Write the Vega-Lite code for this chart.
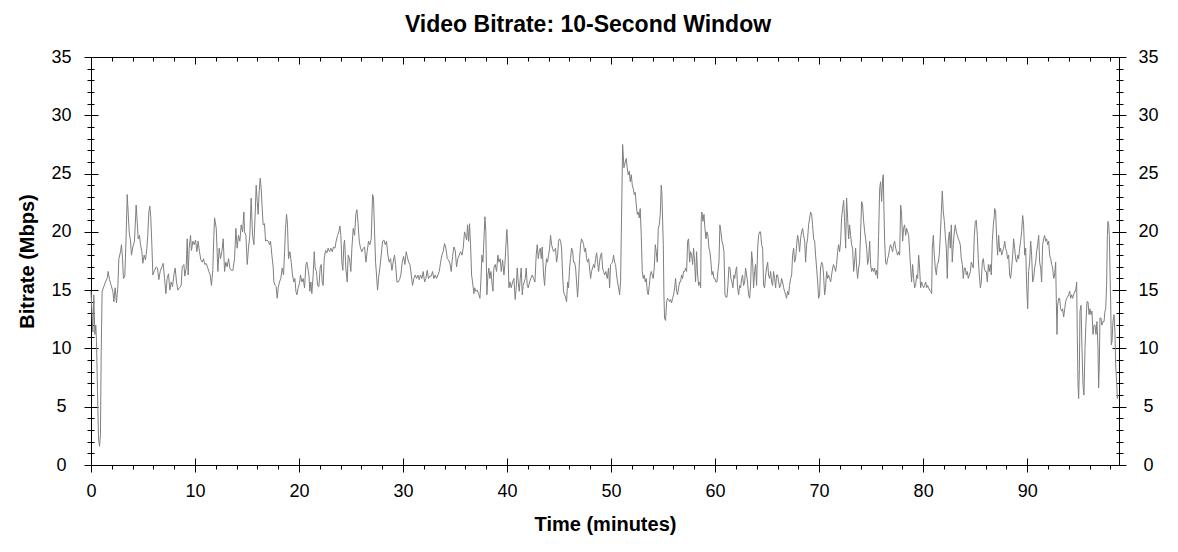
{
"$schema":"https://vega.github.io/schema/vega-lite/v6.json",
"width":1028,"height":408,
"autosize":{"type":"none"},
"padding":{"left":91,"top":57,"right":59,"bottom":87},
"background":"white",
"title":{"text":"Video Bitrate: 10-Second Window","font":"Liberation Sans","fontSize":23,"fontWeight":"bold","color":"#000","anchor":"middle","frame":"group","dx":-17,"dy":29,"offset":22,"baseline":"alphabetic"},
"config":{"view":{"stroke":"#000","strokeWidth":1},"axis":{"domain":false,"grid":false,"tickColor":"#000","tickWidth":1,"labelColor":"#000","labelFont":"Liberation Sans","labelFontSize":18,"titleFont":"Liberation Sans","titleFontSize":20,"titleFontWeight":"bold","titleColor":"#000","labelFlush":false,"labelOverlap":false}},
"data":{"values":[
{"min":0.0,"mbps":14.9},{"min":0.18,"mbps":11.4},{"min":0.27,"mbps":14.6},{"min":0.37,"mbps":11.2},{"min":0.46,"mbps":12.0},{"min":0.53,"mbps":10.6},{"min":0.62,"mbps":6.6},{"min":0.72,"mbps":2.3},{"min":0.82,"mbps":1.6},{"min":0.91,"mbps":2.6},{"min":0.98,"mbps":9.7},{"min":1.07,"mbps":14.9},{"min":1.23,"mbps":15.3},{"min":1.39,"mbps":15.7},{"min":1.55,"mbps":16.0},{"min":1.65,"mbps":16.6},{"min":1.78,"mbps":15.9},{"min":1.94,"mbps":15.4},{"min":2.10,"mbps":14.9},{"min":2.20,"mbps":14.0},{"min":2.32,"mbps":15.2},{"min":2.45,"mbps":13.9},{"min":2.58,"mbps":15.3},{"min":2.68,"mbps":17.7},{"min":2.84,"mbps":18.3},{"min":2.93,"mbps":18.9},{"min":3.03,"mbps":17.7},{"min":3.12,"mbps":16.0},{"min":3.25,"mbps":16.2},{"min":3.38,"mbps":19.7},{"min":3.48,"mbps":23.2},{"min":3.57,"mbps":21.7},{"min":3.67,"mbps":20.0},{"min":3.80,"mbps":19.2},{"min":3.89,"mbps":18.0},{"min":4.02,"mbps":18.7},{"min":4.18,"mbps":19.2},{"min":4.34,"mbps":22.3},{"min":4.44,"mbps":20.9},{"min":4.54,"mbps":19.4},{"min":4.66,"mbps":19.7},{"min":4.76,"mbps":18.9},{"min":4.89,"mbps":18.3},{"min":4.98,"mbps":17.3},{"min":5.11,"mbps":18.0},{"min":5.24,"mbps":17.6},{"min":5.37,"mbps":18.6},{"min":5.46,"mbps":19.7},{"min":5.56,"mbps":21.7},{"min":5.66,"mbps":22.2},{"min":5.75,"mbps":21.2},{"min":5.85,"mbps":18.9},{"min":5.95,"mbps":16.3},{"min":6.11,"mbps":16.7},{"min":6.27,"mbps":17.0},{"min":6.39,"mbps":16.9},{"min":6.52,"mbps":15.9},{"min":6.65,"mbps":16.6},{"min":6.81,"mbps":17.0},{"min":6.94,"mbps":17.3},{"min":7.07,"mbps":16.0},{"min":7.20,"mbps":14.7},{"min":7.32,"mbps":16.0},{"min":7.45,"mbps":16.4},{"min":7.58,"mbps":15.0},{"min":7.71,"mbps":15.7},{"min":7.84,"mbps":15.3},{"min":7.97,"mbps":16.3},{"min":8.09,"mbps":16.9},{"min":8.22,"mbps":15.7},{"min":8.35,"mbps":15.0},{"min":8.51,"mbps":15.2},{"min":8.67,"mbps":15.4},{"min":8.77,"mbps":17.0},{"min":8.93,"mbps":17.2},{"min":9.02,"mbps":16.2},{"min":9.15,"mbps":16.9},{"min":9.25,"mbps":19.4},{"min":9.34,"mbps":16.3},{"min":9.44,"mbps":18.6},{"min":9.57,"mbps":19.7},{"min":9.66,"mbps":18.4},{"min":9.79,"mbps":19.2},{"min":9.92,"mbps":18.9},{"min":10.05,"mbps":19.3},{"min":10.18,"mbps":18.3},{"min":10.30,"mbps":19.2},{"min":10.43,"mbps":18.3},{"min":10.56,"mbps":17.6},{"min":10.69,"mbps":17.4},{"min":10.82,"mbps":17.7},{"min":10.95,"mbps":17.2},{"min":11.07,"mbps":17.3},{"min":11.20,"mbps":17.0},{"min":11.33,"mbps":16.6},{"min":11.46,"mbps":16.3},{"min":11.58,"mbps":15.4},{"min":11.71,"mbps":16.7},{"min":11.81,"mbps":19.7},
{"min":11.88,"mbps":21.2},{"min":12.04,"mbps":20.3},{"min":12.20,"mbps":16.6},{"min":12.32,"mbps":18.6},{"min":12.45,"mbps":17.7},{"min":12.58,"mbps":18.3},{"min":12.71,"mbps":19.4},{"min":12.84,"mbps":16.6},{"min":12.96,"mbps":17.4},{"min":13.09,"mbps":17.0},{"min":13.22,"mbps":17.7},{"min":13.35,"mbps":16.9},{"min":13.48,"mbps":16.7},{"min":13.64,"mbps":16.7},{"min":13.80,"mbps":17.7},{"min":13.93,"mbps":20.3},{"min":14.05,"mbps":18.6},{"min":14.18,"mbps":19.7},{"min":14.31,"mbps":19.2},{"min":14.44,"mbps":20.6},{"min":14.57,"mbps":20.0},{"min":14.70,"mbps":21.7},{"min":14.76,"mbps":20.0},{"min":14.89,"mbps":19.7},{"min":15.02,"mbps":17.2},{"min":15.14,"mbps":18.6},{"min":15.27,"mbps":19.7},{"min":15.40,"mbps":22.9},{"min":15.53,"mbps":19.7},{"min":15.66,"mbps":18.9},{"min":15.79,"mbps":21.7},{"min":15.88,"mbps":24.0},{"min":15.98,"mbps":22.6},{"min":16.07,"mbps":21.5},{"min":16.17,"mbps":23.5},{"min":16.27,"mbps":24.6},{"min":16.36,"mbps":23.7},{"min":16.46,"mbps":22.0},{"min":16.55,"mbps":20.6},{"min":16.68,"mbps":20.7},{"min":16.78,"mbps":19.2},{"min":16.91,"mbps":19.3},{"min":17.04,"mbps":19.2},{"min":17.16,"mbps":18.9},{"min":17.26,"mbps":19.2},{"min":17.39,"mbps":18.0},{"min":17.52,"mbps":16.9},{"min":17.58,"mbps":15.7},{"min":17.71,"mbps":15.4},{"min":17.80,"mbps":15.3},{"min":17.90,"mbps":14.3},{"min":18.00,"mbps":15.2},{"min":18.12,"mbps":15.7},{"min":18.25,"mbps":16.0},{"min":18.38,"mbps":16.9},{"min":18.51,"mbps":16.3},{"min":18.61,"mbps":18.3},{"min":18.70,"mbps":20.3},{"min":18.80,"mbps":21.5},{"min":18.89,"mbps":20.6},{"min":18.99,"mbps":17.7},{"min":19.12,"mbps":18.3},{"min":19.25,"mbps":17.4},{"min":19.37,"mbps":16.3},{"min":19.50,"mbps":15.7},{"min":19.60,"mbps":16.0},{"min":19.70,"mbps":14.9},{"min":19.79,"mbps":14.6},{"min":19.92,"mbps":15.2},{"min":20.05,"mbps":15.6},{"min":20.14,"mbps":16.3},{"min":20.27,"mbps":15.7},{"min":20.40,"mbps":16.0},{"min":20.53,"mbps":15.2},{"min":20.66,"mbps":17.2},{"min":20.75,"mbps":17.4},{"min":20.85,"mbps":16.9},{"min":20.95,"mbps":16.3},{"min":21.04,"mbps":14.9},{"min":21.14,"mbps":15.7},{"min":21.23,"mbps":14.7},{"min":21.36,"mbps":16.3},{"min":21.46,"mbps":18.3},{"min":21.55,"mbps":16.9},{"min":21.68,"mbps":16.6},{"min":21.78,"mbps":15.4},{"min":21.91,"mbps":15.3},{"min":22.03,"mbps":16.9},{"min":22.13,"mbps":17.2},{"min":22.23,"mbps":15.7},{"min":22.32,"mbps":15.4},{"min":22.42,"mbps":17.7},{"min":22.55,"mbps":18.4},{"min":22.68,"mbps":18.2},{"min":22.80,"mbps":18.6},{"min":22.93,"mbps":18.3},{"min":23.06,"mbps":18.6},{"min":23.19,"mbps":18.3},{"min":23.32,"mbps":18.7},{"min":23.45,"mbps":18.6},{"min":23.57,"mbps":19.2},{"min":23.70,"mbps":19.7},{"min":23.83,"mbps":20.0},{"min":23.93,"mbps":20.5},{"min":24.02,"mbps":19.7},{"min":24.12,"mbps":17.4},{"min":24.21,"mbps":16.7},{"min":24.31,"mbps":18.9},
{"min":24.38,"mbps":19.3},{"min":24.50,"mbps":16.9},{"min":24.63,"mbps":15.7},{"min":24.73,"mbps":18.0},{"min":24.86,"mbps":17.7},{"min":24.98,"mbps":16.6},{"min":25.08,"mbps":18.6},{"min":25.21,"mbps":20.3},{"min":25.34,"mbps":19.7},{"min":25.46,"mbps":21.5},{"min":25.56,"mbps":21.9},{"min":25.66,"mbps":20.9},{"min":25.79,"mbps":19.2},{"min":25.91,"mbps":18.6},{"min":26.04,"mbps":18.3},{"min":26.17,"mbps":18.6},{"min":26.30,"mbps":18.7},{"min":26.43,"mbps":17.4},{"min":26.55,"mbps":18.3},{"min":26.68,"mbps":19.2},{"min":26.81,"mbps":18.9},{"min":26.94,"mbps":19.4},{"min":27.07,"mbps":23.2},{"min":27.16,"mbps":22.9},{"min":27.26,"mbps":20.0},{"min":27.36,"mbps":17.4},{"min":27.45,"mbps":16.3},{"min":27.55,"mbps":15.0},{"min":27.64,"mbps":16.0},{"min":27.77,"mbps":16.9},{"min":27.90,"mbps":18.0},{"min":28.03,"mbps":19.2},{"min":28.16,"mbps":19.3},{"min":28.29,"mbps":18.9},{"min":28.41,"mbps":19.2},{"min":28.54,"mbps":18.0},{"min":28.67,"mbps":17.4},{"min":28.80,"mbps":17.7},{"min":28.93,"mbps":16.7},{"min":29.05,"mbps":17.4},{"min":29.18,"mbps":18.0},{"min":29.28,"mbps":17.2},{"min":29.41,"mbps":15.7},{"min":29.54,"mbps":15.7},{"min":29.66,"mbps":15.9},{"min":29.79,"mbps":16.3},{"min":29.92,"mbps":17.4},{"min":30.05,"mbps":17.9},{"min":30.18,"mbps":17.2},{"min":30.30,"mbps":18.3},{"min":30.40,"mbps":17.9},{"min":30.53,"mbps":17.4},{"min":30.66,"mbps":17.2},{"min":30.79,"mbps":16.3},{"min":30.91,"mbps":15.4},{"min":31.04,"mbps":16.0},{"min":31.17,"mbps":16.3},{"min":31.30,"mbps":16.0},{"min":31.43,"mbps":16.3},{"min":31.55,"mbps":15.9},{"min":31.68,"mbps":16.3},{"min":31.81,"mbps":16.0},{"min":31.94,"mbps":16.6},{"min":32.07,"mbps":15.7},{"min":32.20,"mbps":16.0},{"min":32.32,"mbps":16.7},{"min":32.45,"mbps":16.0},{"min":32.58,"mbps":16.2},{"min":32.71,"mbps":16.2},{"min":32.84,"mbps":16.6},{"min":32.96,"mbps":16.0},{"min":33.09,"mbps":16.3},{"min":33.22,"mbps":16.0},{"min":33.35,"mbps":16.3},{"min":33.48,"mbps":16.6},{"min":33.61,"mbps":17.4},{"min":33.73,"mbps":18.0},{"min":33.86,"mbps":18.3},{"min":33.99,"mbps":19.0},{"min":34.12,"mbps":18.6},{"min":34.25,"mbps":17.7},{"min":34.37,"mbps":17.6},{"min":34.50,"mbps":17.3},{"min":34.63,"mbps":16.6},{"min":34.76,"mbps":17.9},{"min":34.89,"mbps":18.7},{"min":35.02,"mbps":18.4},{"min":35.14,"mbps":17.0},{"min":35.27,"mbps":17.7},{"min":35.40,"mbps":18.0},{"min":35.53,"mbps":18.3},{"min":35.66,"mbps":18.0},{"min":35.78,"mbps":18.6},{"min":35.91,"mbps":20.0},{"min":36.01,"mbps":19.7},{"min":36.11,"mbps":19.3},{"min":36.20,"mbps":20.6},{"min":36.30,"mbps":19.2},{"min":36.39,"mbps":20.7},{"min":36.49,"mbps":18.9},{"min":36.59,"mbps":16.3},{"min":36.68,"mbps":15.7},{"min":36.81,"mbps":14.7},
{"min":36.88,"mbps":15.2},{"min":37.00,"mbps":14.9},{"min":37.13,"mbps":15.0},{"min":37.26,"mbps":14.7},{"min":37.39,"mbps":14.3},{"min":37.48,"mbps":15.7},{"min":37.58,"mbps":18.0},{"min":37.68,"mbps":17.4},{"min":37.77,"mbps":19.2},{"min":37.87,"mbps":21.3},{"min":37.96,"mbps":20.0},{"min":38.06,"mbps":14.6},{"min":38.16,"mbps":16.3},{"min":38.25,"mbps":16.9},{"min":38.35,"mbps":16.0},{"min":38.45,"mbps":16.6},{"min":38.54,"mbps":15.7},{"min":38.64,"mbps":14.9},{"min":38.73,"mbps":16.9},{"min":38.86,"mbps":17.2},{"min":38.99,"mbps":16.6},{"min":39.12,"mbps":18.0},{"min":39.21,"mbps":17.4},{"min":39.34,"mbps":17.7},{"min":39.44,"mbps":16.6},{"min":39.57,"mbps":17.6},{"min":39.70,"mbps":16.3},{"min":39.79,"mbps":17.2},{"min":39.89,"mbps":18.9},{"min":39.98,"mbps":20.2},{"min":40.08,"mbps":18.6},{"min":40.18,"mbps":15.2},{"min":40.27,"mbps":15.7},{"min":40.40,"mbps":15.2},{"min":40.53,"mbps":15.7},{"min":40.66,"mbps":16.0},{"min":40.78,"mbps":14.2},{"min":40.88,"mbps":15.2},{"min":40.98,"mbps":16.9},{"min":41.07,"mbps":15.7},{"min":41.17,"mbps":14.9},{"min":41.27,"mbps":16.0},{"min":41.36,"mbps":16.9},{"min":41.46,"mbps":14.6},{"min":41.55,"mbps":15.4},{"min":41.65,"mbps":15.7},{"min":41.75,"mbps":16.0},{"min":41.84,"mbps":16.9},{"min":41.94,"mbps":15.4},{"min":42.04,"mbps":15.2},{"min":42.16,"mbps":15.7},{"min":42.29,"mbps":16.0},{"min":42.42,"mbps":16.3},{"min":42.55,"mbps":16.0},{"min":42.68,"mbps":15.7},{"min":42.80,"mbps":18.0},{"min":42.90,"mbps":18.9},{"min":43.00,"mbps":17.7},{"min":43.09,"mbps":18.3},{"min":43.19,"mbps":18.6},{"min":43.29,"mbps":17.7},{"min":43.38,"mbps":18.7},{"min":43.51,"mbps":16.3},{"min":43.61,"mbps":15.4},{"min":43.70,"mbps":16.9},{"min":43.80,"mbps":17.7},{"min":43.89,"mbps":17.4},{"min":43.99,"mbps":18.0},{"min":44.09,"mbps":18.6},{"min":44.18,"mbps":19.7},{"min":44.28,"mbps":18.9},{"min":44.37,"mbps":18.6},{"min":44.47,"mbps":18.3},{"min":44.57,"mbps":18.4},{"min":44.66,"mbps":18.6},{"min":44.76,"mbps":17.4},{"min":44.86,"mbps":18.0},{"min":44.95,"mbps":19.2},{"min":45.05,"mbps":19.4},{"min":45.14,"mbps":19.2},{"min":45.24,"mbps":18.6},{"min":45.34,"mbps":16.3},{"min":45.43,"mbps":14.9},{"min":45.53,"mbps":14.6},{"min":45.62,"mbps":14.4},{"min":45.72,"mbps":14.0},{"min":45.82,"mbps":15.7},{"min":45.91,"mbps":15.2},{"min":46.01,"mbps":16.9},{"min":46.10,"mbps":17.7},{"min":46.20,"mbps":18.6},{"min":46.30,"mbps":18.4},{"min":46.39,"mbps":17.4},{"min":46.49,"mbps":17.4},{"min":46.59,"mbps":16.9},{"min":46.68,"mbps":15.7},{"min":46.78,"mbps":14.4},{"min":46.87,"mbps":15.7},{"min":46.97,"mbps":17.7},{"min":47.07,"mbps":18.9},{"min":47.16,"mbps":19.4},{"min":47.26,"mbps":19.2},{"min":47.36,"mbps":18.9},{"min":47.45,"mbps":18.3},{"min":47.55,"mbps":18.6},{"min":47.64,"mbps":17.7},{"min":47.74,"mbps":17.4},{"min":47.84,"mbps":17.7},{"min":47.93,"mbps":16.9},{"min":48.03,"mbps":16.0},{"min":48.12,"mbps":16.6},{"min":48.22,"mbps":16.9},{"min":48.32,"mbps":17.2},{"min":48.41,"mbps":16.9},{"min":48.51,"mbps":17.7},{"min":48.61,"mbps":18.2},{"min":48.70,"mbps":17.4},{"min":48.80,"mbps":16.6},{"min":48.89,"mbps":17.4},{"min":48.99,"mbps":18.0},{"min":49.09,"mbps":18.2},{"min":49.18,"mbps":16.9},{"min":49.28,"mbps":16.6},
{"min":49.38,"mbps":16.3},{"min":49.50,"mbps":16.6},{"min":49.63,"mbps":16.0},{"min":49.76,"mbps":16.9},{"min":49.86,"mbps":15.2},{"min":49.95,"mbps":17.2},{"min":50.05,"mbps":17.3},{"min":50.14,"mbps":17.4},{"min":50.24,"mbps":18.0},{"min":50.34,"mbps":17.4},{"min":50.43,"mbps":17.2},{"min":50.53,"mbps":16.3},{"min":50.62,"mbps":15.7},{"min":50.72,"mbps":15.2},{"min":50.82,"mbps":14.6},{"min":50.91,"mbps":15.7},{"min":50.98,"mbps":19.7},{"min":51.04,"mbps":23.2},{"min":51.11,"mbps":27.5},{"min":51.17,"mbps":26.6},{"min":51.23,"mbps":25.5},{"min":51.30,"mbps":25.7},{"min":51.36,"mbps":26.0},{"min":51.46,"mbps":26.3},{"min":51.55,"mbps":25.5},{"min":51.65,"mbps":24.9},{"min":51.75,"mbps":25.2},{"min":51.84,"mbps":24.3},{"min":51.94,"mbps":24.9},{"min":52.04,"mbps":24.0},{"min":52.13,"mbps":23.7},{"min":52.23,"mbps":23.2},{"min":52.32,"mbps":23.4},{"min":52.42,"mbps":22.3},{"min":52.52,"mbps":21.5},{"min":52.61,"mbps":21.7},{"min":52.71,"mbps":21.2},{"min":52.80,"mbps":22.0},{"min":52.90,"mbps":19.7},{"min":53.00,"mbps":16.6},{"min":53.09,"mbps":16.0},{"min":53.19,"mbps":16.3},{"min":53.29,"mbps":15.7},{"min":53.38,"mbps":16.0},{"min":53.48,"mbps":14.9},{"min":53.57,"mbps":14.6},{"min":53.67,"mbps":15.4},{"min":53.77,"mbps":16.3},{"min":53.86,"mbps":16.6},{"min":53.96,"mbps":16.3},{"min":54.05,"mbps":16.0},{"min":54.15,"mbps":16.9},{"min":54.25,"mbps":18.9},{"min":54.34,"mbps":18.3},{"min":54.44,"mbps":17.4},{"min":54.54,"mbps":20.3},{"min":54.63,"mbps":20.6},{"min":54.73,"mbps":21.5},{"min":54.82,"mbps":24.0},{"min":54.89,"mbps":23.2},{"min":54.95,"mbps":21.2},{"min":55.02,"mbps":18.9},{"min":55.08,"mbps":14.6},{"min":55.14,"mbps":12.6},{"min":55.24,"mbps":12.4},{"min":55.34,"mbps":14.0},{"min":55.43,"mbps":14.3},{"min":55.53,"mbps":14.2},{"min":55.62,"mbps":14.0},{"min":55.72,"mbps":14.2},{"min":55.82,"mbps":13.9},{"min":55.91,"mbps":14.3},{"min":56.01,"mbps":14.6},{"min":56.11,"mbps":15.2},{"min":56.20,"mbps":16.0},{"min":56.30,"mbps":14.9},{"min":56.39,"mbps":14.6},{"min":56.49,"mbps":15.2},{"min":56.59,"mbps":15.7},{"min":56.68,"mbps":15.7},{"min":56.78,"mbps":16.3},{"min":56.87,"mbps":16.0},{"min":56.97,"mbps":16.6},{"min":57.07,"mbps":16.6},{"min":57.16,"mbps":16.9},{"min":57.26,"mbps":16.6},{"min":57.36,"mbps":19.2},{"min":57.45,"mbps":19.4},{"min":57.55,"mbps":17.4},{"min":57.64,"mbps":18.3},{"min":57.74,"mbps":18.0},{"min":57.84,"mbps":17.2},{"min":57.93,"mbps":18.6},{"min":58.03,"mbps":17.4},{"min":58.12,"mbps":15.7},{"min":58.22,"mbps":18.3},{"min":58.32,"mbps":16.3},{"min":58.41,"mbps":15.4},{"min":58.51,"mbps":15.7},{"min":58.61,"mbps":15.2},{"min":58.67,"mbps":21.2},{"min":58.73,"mbps":21.7},{"min":58.83,"mbps":20.9},{"min":58.93,"mbps":21.5},{"min":59.02,"mbps":20.3},{"min":59.12,"mbps":19.4},{"min":59.21,"mbps":20.0},{"min":59.31,"mbps":19.7},{"min":59.41,"mbps":18.6},{"min":59.50,"mbps":18.3},{"min":59.60,"mbps":17.4},{"min":59.70,"mbps":16.3},{"min":59.79,"mbps":16.6},{"min":59.89,"mbps":16.0},{"min":59.98,"mbps":16.0},{"min":60.08,"mbps":15.7},{"min":60.18,"mbps":15.7},{"min":60.27,"mbps":16.6},{"min":60.37,"mbps":17.4},{"min":60.46,"mbps":20.6},{"min":60.56,"mbps":20.0},{"min":60.66,"mbps":19.2},{"min":60.75,"mbps":18.9},{"min":60.85,"mbps":18.3},{"min":60.95,"mbps":14.6},{"min":61.04,"mbps":14.4},{"min":61.14,"mbps":14.4},{"min":61.23,"mbps":15.4},{"min":61.33,"mbps":17.0},{"min":61.43,"mbps":16.9},{"min":61.52,"mbps":16.0},{"min":61.62,"mbps":15.7},{"min":61.71,"mbps":15.2},{"min":61.81,"mbps":16.3},
{"min":61.88,"mbps":16.0},{"min":61.97,"mbps":16.6},{"min":62.07,"mbps":17.0},{"min":62.16,"mbps":15.2},{"min":62.26,"mbps":14.6},{"min":62.36,"mbps":15.4},{"min":62.45,"mbps":15.2},{"min":62.55,"mbps":16.0},{"min":62.64,"mbps":16.3},{"min":62.74,"mbps":15.4},{"min":62.84,"mbps":15.7},{"min":62.93,"mbps":16.9},{"min":63.03,"mbps":16.3},{"min":63.12,"mbps":15.7},{"min":63.22,"mbps":14.6},{"min":63.32,"mbps":14.3},{"min":63.41,"mbps":15.4},{"min":63.51,"mbps":18.3},{"min":63.61,"mbps":17.4},{"min":63.70,"mbps":15.2},{"min":63.80,"mbps":16.6},{"min":63.89,"mbps":17.2},{"min":63.99,"mbps":15.4},{"min":64.09,"mbps":18.6},{"min":64.18,"mbps":19.7},{"min":64.28,"mbps":20.0},{"min":64.37,"mbps":20.0},{"min":64.47,"mbps":18.9},{"min":64.57,"mbps":18.6},{"min":64.66,"mbps":15.4},{"min":64.76,"mbps":15.2},{"min":64.86,"mbps":16.3},{"min":64.95,"mbps":16.9},{"min":65.05,"mbps":17.4},{"min":65.14,"mbps":16.3},{"min":65.24,"mbps":16.0},{"min":65.34,"mbps":16.6},{"min":65.43,"mbps":15.7},{"min":65.53,"mbps":15.4},{"min":65.62,"mbps":16.6},{"min":65.72,"mbps":16.0},{"min":65.82,"mbps":15.2},{"min":65.91,"mbps":16.3},{"min":66.01,"mbps":16.3},{"min":66.11,"mbps":15.7},{"min":66.20,"mbps":15.2},{"min":66.30,"mbps":15.4},{"min":66.39,"mbps":16.0},{"min":66.49,"mbps":15.7},{"min":66.59,"mbps":15.2},{"min":66.68,"mbps":14.9},{"min":66.78,"mbps":14.6},{"min":66.87,"mbps":14.3},{"min":66.97,"mbps":14.9},{"min":67.07,"mbps":14.6},{"min":67.16,"mbps":15.4},{"min":67.26,"mbps":16.0},{"min":67.36,"mbps":16.3},{"min":67.45,"mbps":18.0},{"min":67.55,"mbps":18.6},{"min":67.64,"mbps":17.4},{"min":67.74,"mbps":17.7},{"min":67.84,"mbps":18.9},{"min":67.93,"mbps":19.7},{"min":68.03,"mbps":19.2},{"min":68.12,"mbps":18.3},{"min":68.22,"mbps":19.4},{"min":68.32,"mbps":20.0},{"min":68.41,"mbps":20.3},{"min":68.51,"mbps":19.7},{"min":68.61,"mbps":19.2},{"min":68.70,"mbps":17.4},{"min":68.80,"mbps":18.9},{"min":68.89,"mbps":19.4},{"min":68.99,"mbps":20.6},{"min":69.09,"mbps":21.2},{"min":69.18,"mbps":21.7},{"min":69.28,"mbps":21.5},{"min":69.37,"mbps":20.6},{"min":69.47,"mbps":19.4},{"min":69.57,"mbps":19.2},{"min":69.66,"mbps":18.0},{"min":69.76,"mbps":16.9},{"min":69.86,"mbps":15.7},{"min":69.95,"mbps":14.3},{"min":70.05,"mbps":14.6},{"min":70.14,"mbps":16.9},{"min":70.24,"mbps":17.4},{"min":70.34,"mbps":17.2},{"min":70.43,"mbps":16.3},{"min":70.53,"mbps":14.6},{"min":70.62,"mbps":15.2},{"min":70.72,"mbps":16.6},{"min":70.82,"mbps":16.0},{"min":70.91,"mbps":16.3},{"min":71.01,"mbps":16.0},{"min":71.11,"mbps":15.7},{"min":71.20,"mbps":16.3},{"min":71.30,"mbps":16.9},{"min":71.39,"mbps":17.2},{"min":71.49,"mbps":16.9},{"min":71.59,"mbps":16.6},{"min":71.68,"mbps":17.2},{"min":71.78,"mbps":18.3},{"min":71.87,"mbps":18.9},{"min":71.97,"mbps":18.3},{"min":72.07,"mbps":19.2},{"min":72.16,"mbps":21.2},{"min":72.26,"mbps":22.0},{"min":72.36,"mbps":22.7},{"min":72.45,"mbps":20.9},{"min":72.55,"mbps":18.6},{"min":72.64,"mbps":22.9},{"min":72.74,"mbps":21.2},{"min":72.84,"mbps":19.4},{"min":72.93,"mbps":20.6},{"min":73.03,"mbps":19.7},{"min":73.12,"mbps":18.9},{"min":73.22,"mbps":18.6},{"min":73.32,"mbps":16.6},{"min":73.41,"mbps":17.4},{"min":73.51,"mbps":18.6},{"min":73.61,"mbps":16.9},{"min":73.70,"mbps":16.0},{"min":73.80,"mbps":16.9},{"min":73.89,"mbps":17.4},{"min":73.99,"mbps":20.0},{"min":74.09,"mbps":22.6},{"min":74.18,"mbps":22.3},{"min":74.28,"mbps":20.9},
{"min":74.38,"mbps":20.0},{"min":74.47,"mbps":19.4},{"min":74.57,"mbps":18.6},{"min":74.66,"mbps":17.2},{"min":74.76,"mbps":17.7},{"min":74.86,"mbps":19.2},{"min":74.95,"mbps":17.2},{"min":75.05,"mbps":16.6},{"min":75.14,"mbps":16.9},{"min":75.24,"mbps":16.6},{"min":75.34,"mbps":16.9},{"min":75.43,"mbps":16.3},{"min":75.53,"mbps":16.7},{"min":75.62,"mbps":16.0},{"min":75.72,"mbps":19.7},{"min":75.82,"mbps":23.7},{"min":75.91,"mbps":24.3},{"min":76.01,"mbps":22.6},{"min":76.11,"mbps":24.6},{"min":76.17,"mbps":24.9},{"min":76.23,"mbps":22.0},{"min":76.30,"mbps":19.2},{"min":76.39,"mbps":17.4},{"min":76.49,"mbps":17.2},{"min":76.59,"mbps":17.7},{"min":76.68,"mbps":18.0},{"min":76.78,"mbps":18.6},{"min":76.87,"mbps":18.9},{"min":76.97,"mbps":18.6},{"min":77.07,"mbps":18.3},{"min":77.16,"mbps":18.9},{"min":77.26,"mbps":19.2},{"min":77.36,"mbps":18.6},{"min":77.45,"mbps":18.3},{"min":77.55,"mbps":18.0},{"min":77.64,"mbps":18.3},{"min":77.74,"mbps":18.0},{"min":77.84,"mbps":22.3},{"min":77.93,"mbps":21.5},{"min":78.03,"mbps":19.2},{"min":78.12,"mbps":20.3},{"min":78.22,"mbps":20.6},{"min":78.32,"mbps":19.7},{"min":78.41,"mbps":20.3},{"min":78.51,"mbps":20.0},{"min":78.61,"mbps":19.7},{"min":78.70,"mbps":18.3},{"min":78.80,"mbps":16.9},{"min":78.89,"mbps":15.7},{"min":78.99,"mbps":17.2},{"min":79.09,"mbps":16.0},{"min":79.18,"mbps":15.2},{"min":79.28,"mbps":15.4},{"min":79.37,"mbps":16.3},{"min":79.47,"mbps":16.0},{"min":79.57,"mbps":18.0},{"min":79.66,"mbps":16.9},{"min":79.76,"mbps":15.2},{"min":79.86,"mbps":15.7},{"min":79.95,"mbps":15.4},{"min":80.05,"mbps":15.2},{"min":80.14,"mbps":15.4},{"min":80.24,"mbps":15.7},{"min":80.34,"mbps":15.2},{"min":80.43,"mbps":15.4},{"min":80.53,"mbps":15.2},{"min":80.62,"mbps":15.0},{"min":80.72,"mbps":14.9},{"min":80.82,"mbps":14.7},{"min":80.88,"mbps":18.6},{"min":80.98,"mbps":19.7},{"min":81.07,"mbps":18.0},{"min":81.17,"mbps":16.9},{"min":81.27,"mbps":16.3},{"min":81.36,"mbps":17.2},{"min":81.46,"mbps":17.4},{"min":81.55,"mbps":18.0},{"min":81.65,"mbps":19.7},{"min":81.75,"mbps":21.7},{"min":81.84,"mbps":23.5},{"min":81.94,"mbps":21.7},{"min":82.04,"mbps":20.9},{"min":82.13,"mbps":19.7},{"min":82.23,"mbps":18.6},{"min":82.32,"mbps":16.0},{"min":82.42,"mbps":19.2},{"min":82.52,"mbps":20.0},{"min":82.61,"mbps":18.6},{"min":82.71,"mbps":20.6},{"min":82.80,"mbps":17.4},{"min":82.90,"mbps":18.9},{"min":83.00,"mbps":20.0},{"min":83.09,"mbps":20.6},{"min":83.19,"mbps":20.0},{"min":83.29,"mbps":19.7},{"min":83.38,"mbps":19.4},{"min":83.48,"mbps":19.2},{"min":83.57,"mbps":18.9},{"min":83.67,"mbps":17.7},{"min":83.77,"mbps":17.2},{"min":83.86,"mbps":16.0},{"min":83.96,"mbps":16.9},{"min":84.05,"mbps":16.9},{"min":84.15,"mbps":16.3},{"min":84.25,"mbps":16.6},{"min":84.34,"mbps":16.0},{"min":84.44,"mbps":16.3},{"min":84.54,"mbps":16.6},{"min":84.63,"mbps":17.4},{"min":84.73,"mbps":17.2},{"min":84.82,"mbps":16.9},{"min":84.92,"mbps":19.7},{"min":85.02,"mbps":20.9},{"min":85.11,"mbps":21.0},{"min":85.21,"mbps":19.7},{"min":85.30,"mbps":17.7},{"min":85.40,"mbps":16.3},{"min":85.50,"mbps":15.2},{"min":85.59,"mbps":15.7},{"min":85.69,"mbps":17.4},{"min":85.79,"mbps":17.7},{"min":85.88,"mbps":16.9},{"min":85.98,"mbps":16.6},{"min":86.07,"mbps":16.6},{"min":86.17,"mbps":15.7},{"min":86.27,"mbps":17.2},{"min":86.36,"mbps":16.6},{"min":86.46,"mbps":17.2},{"min":86.55,"mbps":16.3},{"min":86.65,"mbps":19.2},{"min":86.75,"mbps":20.6},{"min":86.84,"mbps":21.4},
{"min":86.88,"mbps":22.0},{"min":86.97,"mbps":21.7},{"min":87.07,"mbps":19.4},{"min":87.16,"mbps":18.0},{"min":87.26,"mbps":19.7},{"min":87.36,"mbps":18.3},{"min":87.45,"mbps":18.6},{"min":87.55,"mbps":18.0},{"min":87.64,"mbps":18.3},{"min":87.74,"mbps":18.6},{"min":87.84,"mbps":19.2},{"min":87.93,"mbps":18.6},{"min":88.03,"mbps":18.3},{"min":88.12,"mbps":17.7},{"min":88.22,"mbps":18.0},{"min":88.32,"mbps":16.3},{"min":88.41,"mbps":16.0},{"min":88.51,"mbps":16.9},{"min":88.61,"mbps":18.0},{"min":88.70,"mbps":19.4},{"min":88.80,"mbps":18.6},{"min":88.89,"mbps":17.7},{"min":88.99,"mbps":17.4},{"min":89.09,"mbps":18.0},{"min":89.18,"mbps":17.7},{"min":89.28,"mbps":18.6},{"min":89.37,"mbps":19.2},{"min":89.47,"mbps":20.0},{"min":89.57,"mbps":21.4},{"min":89.66,"mbps":20.6},{"min":89.76,"mbps":18.0},{"min":89.86,"mbps":18.6},{"min":89.95,"mbps":15.4},{"min":90.05,"mbps":13.4},{"min":90.14,"mbps":16.6},{"min":90.24,"mbps":17.4},{"min":90.34,"mbps":19.2},{"min":90.43,"mbps":18.0},{"min":90.53,"mbps":15.7},{"min":90.62,"mbps":16.0},{"min":90.72,"mbps":16.9},{"min":90.82,"mbps":17.4},{"min":90.91,"mbps":18.3},{"min":91.01,"mbps":18.9},{"min":91.11,"mbps":19.7},{"min":91.20,"mbps":17.4},{"min":91.30,"mbps":16.9},{"min":91.39,"mbps":15.7},{"min":91.49,"mbps":18.9},{"min":91.59,"mbps":19.4},{"min":91.68,"mbps":19.7},{"min":91.78,"mbps":19.2},{"min":91.87,"mbps":19.4},{"min":91.97,"mbps":18.9},{"min":92.07,"mbps":19.2},{"min":92.16,"mbps":18.0},{"min":92.26,"mbps":17.7},{"min":92.36,"mbps":17.2},{"min":92.45,"mbps":16.9},{"min":92.55,"mbps":16.0},{"min":92.64,"mbps":16.3},{"min":92.74,"mbps":17.4},{"min":92.80,"mbps":14.3},{"min":92.87,"mbps":11.2},{"min":92.93,"mbps":13.7},{"min":93.03,"mbps":14.3},{"min":93.12,"mbps":14.3},{"min":93.22,"mbps":13.4},{"min":93.32,"mbps":13.2},{"min":93.41,"mbps":13.4},{"min":93.51,"mbps":12.7},{"min":93.61,"mbps":13.4},{"min":93.70,"mbps":14.0},{"min":93.80,"mbps":14.3},{"min":93.89,"mbps":14.4},{"min":93.99,"mbps":14.6},{"min":94.09,"mbps":14.9},{"min":94.18,"mbps":14.3},{"min":94.28,"mbps":14.6},{"min":94.37,"mbps":14.3},{"min":94.47,"mbps":14.6},{"min":94.57,"mbps":14.9},{"min":94.66,"mbps":14.9},{"min":94.76,"mbps":15.7},{"min":94.82,"mbps":11.2},{"min":94.89,"mbps":6.9},{"min":94.95,"mbps":5.7},{"min":95.02,"mbps":8.3},{"min":95.08,"mbps":13.2},{"min":95.18,"mbps":13.7},{"min":95.27,"mbps":10.0},{"min":95.37,"mbps":6.9},{"min":95.46,"mbps":6.0},{"min":95.56,"mbps":10.0},{"min":95.66,"mbps":12.3},{"min":95.75,"mbps":14.0},{"min":95.85,"mbps":14.0},{"min":95.95,"mbps":12.9},{"min":96.04,"mbps":13.4},{"min":96.14,"mbps":12.9},{"min":96.23,"mbps":13.2},{"min":96.33,"mbps":11.2},{"min":96.43,"mbps":12.0},{"min":96.52,"mbps":12.0},{"min":96.62,"mbps":11.2},{"min":96.71,"mbps":12.3},{"min":96.81,"mbps":10.0},{"min":96.87,"mbps":6.6},{"min":96.94,"mbps":8.6},{"min":97.00,"mbps":12.6},{"min":97.10,"mbps":12.6},{"min":97.19,"mbps":12.0},{"min":97.29,"mbps":12.3},{"min":97.39,"mbps":12.3},{"min":97.48,"mbps":13.2},{"min":97.55,"mbps":13.4},{"min":97.64,"mbps":15.4},{"min":97.71,"mbps":19.7},{"min":97.77,"mbps":20.9},{"min":97.84,"mbps":20.6},{"min":97.90,"mbps":19.7},{"min":97.96,"mbps":16.9},{"min":98.03,"mbps":14.0},{"min":98.09,"mbps":10.3},{"min":98.16,"mbps":10.6},{"min":98.25,"mbps":12.3},{"min":98.35,"mbps":12.9},{"min":98.44,"mbps":11.4},{"min":98.51,"mbps":8.6},{"min":98.60,"mbps":7.2},{"min":98.67,"mbps":5.7},{"min":98.73,"mbps":6.0}
]},
"resolve":{"axis":{"x":"independent","y":"independent"}},
"layer":[
{"mark":{"type":"line","color":"#7f7f7f","strokeWidth":1},
 "encoding":{
  "x":{"field":"min","type":"quantitative","scale":{"domain":[0,98.83],"nice":false,"zero":false},"axis":{"orient":"bottom","values":[0,10,20,30,40,50,60,70,80,90],"tickSize":7,"labelPadding":10,"title":"Time (minutes)","titleY":65,"titleBaseline":"alphabetic"}},
  "y":{"field":"mbps","type":"quantitative","scale":{"domain":[0,35],"nice":false,"zero":true},"axis":{"orient":"left","values":[0,5,10,15,20,25,30,35],"tickSize":7,"labelPadding":23,"labelAlign":"center","title":"Bitrate (Mbps)","titleX":-58,"titleY":204,"titleAngle":270,"titleAlign":"center","titleBaseline":"alphabetic"}}}},
{"mark":{"type":"line","strokeOpacity":0},
 "encoding":{
  "x":{"field":"min","type":"quantitative","scale":{"domain":[0,98.83],"nice":false,"zero":false},"axis":{"orient":"bottom","values":[0,10,20,30,40,50,60,70,80,90],"tickSize":-7,"labels":false,"title":null}},
  "y":{"field":"mbps","type":"quantitative","scale":{"domain":[0,35],"nice":false,"zero":true},"axis":{"orient":"left","values":[0,5,10,15,20,25,30,35],"tickSize":-7,"labels":false,"title":null}}}},
{"mark":{"type":"line","strokeOpacity":0},
 "encoding":{
  "x":{"field":"min","type":"quantitative","scale":{"domain":[0,98.83],"nice":false,"zero":false},"axis":{"orient":"bottom","values":[0,2,4,6,8,10,12,14,16,18,20,22,24,26,28,30,32,34,36,38,40,42,44,46,48,50,52,54,56,58,60,62,64,66,68,70,72,74,76,78,80,82,84,86,88,90,92,94,96,98],"tickSize":4,"labels":false,"title":null}},
  "y":{"field":"mbps","type":"quantitative","scale":{"domain":[0,35],"nice":false,"zero":true},"axis":{"orient":"left","values":[0,1,2,3,4,5,6,7,8,9,10,11,12,13,14,15,16,17,18,19,20,21,22,23,24,25,26,27,28,29,30,31,32,33,34,35],"tickSize":4,"labels":false,"title":null}}}},
{"mark":{"type":"line","strokeOpacity":0},
 "encoding":{
  "x":{"field":"min","type":"quantitative","scale":{"domain":[0,98.83],"nice":false,"zero":false},"axis":{"orient":"top","values":[0,2,4,6,8,10,12,14,16,18,20,22,24,26,28,30,32,34,36,38,40,42,44,46,48,50,52,54,56,58,60,62,64,66,68,70,72,74,76,78,80,82,84,86,88,90,92,94,96,98],"tickSize":-4,"labels":false,"title":null}},
  "y":{"field":"mbps","type":"quantitative","scale":{"domain":[0,35],"nice":false,"zero":true},"axis":{"orient":"left","values":[0,1,2,3,4,5,6,7,8,9,10,11,12,13,14,15,16,17,18,19,20,21,22,23,24,25,26,27,28,29,30,31,32,33,34,35],"tickSize":-3,"labels":false,"title":null}}}},
{"mark":{"type":"line","strokeOpacity":0},
 "encoding":{
  "x":{"field":"min","type":"quantitative","scale":{"domain":[0,98.83],"nice":false,"zero":false},"axis":{"orient":"top","values":[0,10,20,30,40,50,60,70,80,90],"tickSize":-7,"labels":false,"title":null}},
  "y":{"field":"mbps","type":"quantitative","scale":{"domain":[0,35],"nice":false,"zero":true},"axis":{"orient":"right","values":[0,5,10,15,20,25,30,35],"tickSize":7,"labelPadding":22,"labelAlign":"center","title":null}}}},
{"mark":{"type":"line","strokeOpacity":0},
 "encoding":{
  "x":{"field":"min","type":"quantitative","scale":{"domain":[0,98.83],"nice":false,"zero":false},"axis":null},
  "y":{"field":"mbps","type":"quantitative","scale":{"domain":[0,35],"nice":false,"zero":true},"axis":{"orient":"right","values":[0,5,10,15,20,25,30,35],"tickSize":-7,"labels":false,"title":null}}}},
{"mark":{"type":"line","strokeOpacity":0},
 "encoding":{
  "x":{"field":"min","type":"quantitative","scale":{"domain":[0,98.83],"nice":false,"zero":false},"axis":null},
  "y":{"field":"mbps","type":"quantitative","scale":{"domain":[0,35],"nice":false,"zero":true},"axis":{"orient":"right","values":[0,1,2,3,4,5,6,7,8,9,10,11,12,13,14,15,16,17,18,19,20,21,22,23,24,25,26,27,28,29,30,31,32,33,34,35],"tickSize":4,"labels":false,"title":null}}}},
{"mark":{"type":"line","strokeOpacity":0},
 "encoding":{
  "x":{"field":"min","type":"quantitative","scale":{"domain":[0,98.83],"nice":false,"zero":false},"axis":null},
  "y":{"field":"mbps","type":"quantitative","scale":{"domain":[0,35],"nice":false,"zero":true},"axis":{"orient":"right","values":[0,1,2,3,4,5,6,7,8,9,10,11,12,13,14,15,16,17,18,19,20,21,22,23,24,25,26,27,28,29,30,31,32,33,34,35],"tickSize":-3,"labels":false,"title":null}}}}
]
}
